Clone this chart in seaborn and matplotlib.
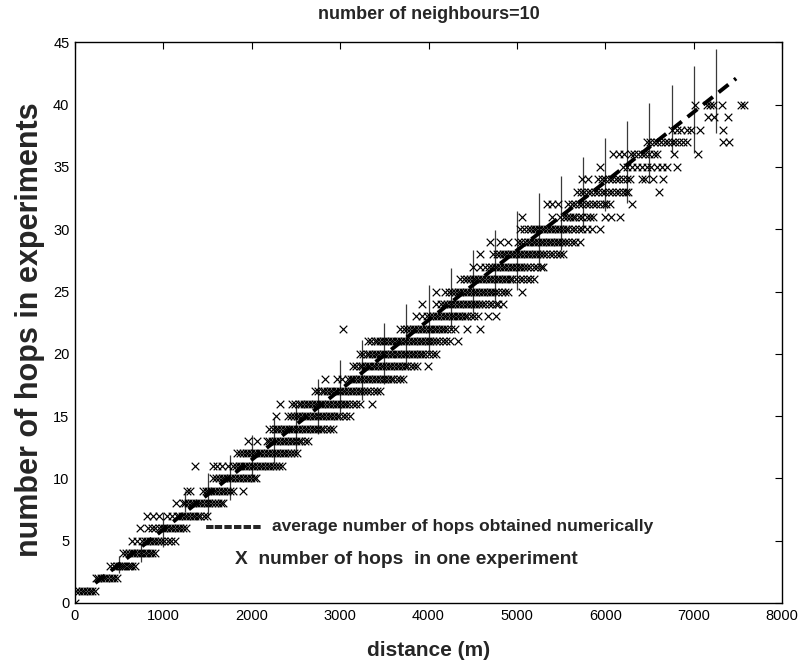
import matplotlib
matplotlib.use("Agg")
import matplotlib.pyplot as plt
import seaborn as sns
import pandas as pd

# Distances (m) at which each hop count was observed in the experiments
h00 = [0]
h01 = [15, 45, 75, 105, 135, 165, 195, 225]
h02 = [235, 265, 295, 325, 355, 385, 415, 445, 480]
h03 = [400, 440, 470, 495, 520, 545, 570, 595, 620, 645, 675]
h04 = [545, 580, 610, 640, 670, 700, 730, 760, 790, 820, 850, 875, 900]
h05 = [650, 700, 760, 790, 820, 850, 880, 910, 940, 970, 1010, 1050, 1090, 1130]
h06 = [740, 830, 870, 910, 950, 980, 1010, 1040, 1070, 1100, 1130, 1160, 1190, 1220, 1260]
h07 = [815, 880, 950, 1040, 1100, 1150, 1180, 1210, 1240, 1270, 1300, 1330, 1360, 1390, 1420, 1455, 1490]
h08 = [1140, 1220, 1250, 1280, 1310, 1340, 1370, 1400, 1430, 1460, 1490, 1520, 1550, 1580, 1615, 1650, 1680]
h09 = [1265, 1300, 1450, 1480, 1510, 1540, 1570, 1600, 1630, 1660, 1690, 1720, 1755, 1790, 1900]
h10 = [1560, 1595, 1630, 1660, 1690, 1720, 1750, 1780, 1810, 1840, 1870, 1900, 1930, 1960, 1990, 2020, 2045]
h11 = [1360, 1560, 1610, 1660, 1730, 1790, 1820, 1850, 1880, 1910, 1940, 1970, 2000, 2030, 2060, 2090,
       2120, 2150, 2180, 2210, 2240, 2270, 2305, 2340]
h12 = [1830, 1865, 1900, 1930, 1960, 1990, 2020, 2050, 2080, 2110, 2140, 2170, 2200, 2230, 2260, 2290,
       2320, 2350, 2380, 2410, 2440, 2475, 2510]
h13 = [1960, 2060, 2170, 2200, 2230, 2260, 2290, 2320, 2350, 2380, 2410, 2440, 2470, 2500, 2530, 2560,
       2600, 2640]
h14 = [2200, 2235, 2270, 2300, 2330, 2360, 2390, 2420, 2450, 2480, 2510, 2540, 2570, 2600, 2630, 2660,
       2690, 2720, 2750, 2780, 2810, 2850, 2885, 2920]
h15 = [2270, 2410, 2445, 2480, 2510, 2540, 2570, 2600, 2630, 2660, 2690, 2720, 2750, 2780, 2810, 2840,
       2870, 2900, 2930, 2960, 2990, 3030, 3070, 3110]
h16 = [2320, 2450, 2490, 2530, 2560, 2590, 2620, 2650, 2680, 2710, 2740, 2770, 2800, 2830, 2860, 2890,
       2920, 2950, 2980, 3010, 3040, 3070, 3100, 3140, 3180, 3220, 3360]
h17 = [2710, 2750, 2790, 2820, 2850, 2880, 2910, 2940, 2970, 3000, 3030, 3060, 3090, 3120, 3150, 3180,
       3210, 3240, 3270, 3300, 3340, 3380, 3415, 3450]
h18 = [2830, 2960, 3020, 3090, 3120, 3150, 3180, 3210, 3240, 3270, 3300, 3330, 3360, 3390, 3420, 3450,
       3480, 3510, 3540, 3570, 3600, 3640, 3675, 3710]
h19 = [3150, 3185, 3220, 3250, 3280, 3310, 3340, 3370, 3400, 3430, 3460, 3490, 3520, 3550, 3580, 3610,
       3640, 3670, 3700, 3730, 3760, 3800, 3835, 3870, 3990]
h20 = [3220, 3260, 3300, 3330, 3360, 3390, 3420, 3450, 3480, 3510, 3540, 3570, 3600, 3630, 3660, 3690,
       3720, 3750, 3780, 3810, 3840, 3870, 3900, 3930, 3960, 4000, 4045, 4090]
h21 = [3310, 3350, 3390, 3420, 3450, 3480, 3510, 3540, 3570, 3600, 3630, 3660, 3690, 3720, 3750, 3780,
       3810, 3840, 3870, 3900, 3930, 3960, 3990, 4020, 4050, 4080, 4120, 4160, 4200, 4240, 4330]
h22 = [3030, 3680, 3720, 3760, 3790, 3820, 3850, 3880, 3910, 3940, 3970, 4000, 4030, 4060, 4090, 4120,
       4150, 4180, 4210, 4250, 4300, 4430, 4580]
h23 = [3860, 3930, 3980, 4020, 4050, 4080, 4110, 4140, 4170, 4200, 4230, 4260, 4290, 4320, 4350, 4380,
       4410, 4440, 4480, 4520, 4560, 4670, 4760]
h24 = [3930, 4090, 4140, 4180, 4210, 4240, 4270, 4300, 4330, 4360, 4390, 4420, 4450, 4480, 4510, 4540,
       4570, 4600, 4640, 4680, 4720, 4760, 4790, 4840]
h25 = [4090, 4190, 4230, 4270, 4300, 4330, 4360, 4390, 4420, 4450, 4480, 4510, 4540, 4570, 4600, 4630,
       4660, 4690, 4720, 4750, 4790, 4830, 4870, 4900, 5060]
h26 = [4360, 4400, 4440, 4470, 4500, 4530, 4560, 4590, 4620, 4650, 4680, 4710, 4740, 4770, 4800, 4830,
       4860, 4890, 4920, 4950, 4990, 5030, 5070, 5110, 5150, 5190]
h27 = [4500, 4580, 4640, 4680, 4720, 4750, 4780, 4810, 4840, 4870, 4900, 4930, 4960, 4990, 5020, 5050,
       5080, 5110, 5150, 5190, 5230, 5270, 5300]
h28 = [4580, 4730, 4770, 4810, 4840, 4870, 4900, 4930, 4960, 4990, 5020, 5050, 5080, 5110, 5140, 5170,
       5200, 5230, 5260, 5290, 5330, 5370, 5410, 5450, 5490, 5520]
h29 = [4690, 4810, 4900, 5010, 5050, 5090, 5120, 5150, 5180, 5210, 5240, 5270, 5300, 5330, 5360, 5390,
       5420, 5450, 5480, 5510, 5540, 5580, 5620, 5660, 5710]
h30 = [5030, 5080, 5120, 5160, 5190, 5220, 5250, 5280, 5310, 5340, 5370, 5400, 5430, 5460, 5490, 5520,
       5550, 5580, 5620, 5660, 5700, 5740, 5790, 5850, 5940]
h31 = [5060, 5400, 5490, 5530, 5570, 5600, 5630, 5660, 5700, 5740, 5790, 5830, 5860, 6000, 6070, 6170]
h32 = [5340, 5400, 5460, 5580, 5620, 5660, 5700, 5740, 5780, 5820, 5860, 5900, 5940, 5980, 6010, 6050, 6300]
h33 = [5680, 5720, 5760, 5800, 5840, 5880, 5920, 5960, 6000, 6040, 6080, 6120, 6160, 6200, 6230, 6260, 6610]
h34 = [5740, 5800, 5920, 5960, 6000, 6040, 6080, 6120, 6160, 6200, 6240, 6280, 6410, 6450, 6540, 6650]
h35 = [5940, 6200, 6240, 6300, 6360, 6420, 6470, 6520, 6580, 6640, 6700, 6810]
h36 = [6090, 6150, 6210, 6290, 6330, 6370, 6410, 6450, 6500, 6550, 6590, 6780, 7050]
h37 = [6470, 6510, 6550, 6590, 6630, 6670, 6710, 6750, 6790, 6830, 6880, 6920, 7330, 7400]
h38 = [6760, 6810, 6860, 6920, 6970, 7070, 7330]
h39 = [7160, 7230, 7390]
h40 = [7010, 7150, 7190, 7220, 7320, 7540, 7570]

hop_rows = [h00, h01, h02, h03, h04, h05, h06, h07, h08, h09, h10, h11, h12, h13, h14, h15, h16,
            h17, h18, h19, h20, h21, h22, h23, h24, h25, h26, h27, h28, h29, h30, h31, h32, h33,
            h34, h35, h36, h37, h38, h39, h40]

# Average number of hops obtained numerically
avg_distance = [230, 1000, 2000, 3000, 4000, 5000, 6000, 7000, 7480]
avg_hops = [1.6, 5.9, 11.5, 17.1, 22.7, 28.3, 33.8, 39.4, 42.1]

# Spread of the numerical results at every 250 m
bar_distance = [500, 750, 1000, 1250, 1500, 1750, 2000, 2250, 2500, 2750, 3000, 3250, 3500, 3750,
                4000, 4250, 4500, 4750, 5000, 5250, 5500, 5750, 6000, 6250, 6500, 6750, 7000, 7250]
bar_low = [2.4, 3.3, 4.5, 7.3, 7.0, 8.3, 10.0, 11.2, 12.0, 13.6, 15.3, 16.3, 17.6, 18.9,
           20.0, 21.9, 23.3, 24.3, 25.1, 26.9, 28.3, 30.0, 31.5, 32.1, 33.7, 36.1, 36.1, 37.7]
bar_high = [3.8, 4.8, 7.2, 9.0, 10.4, 11.9, 13.5, 14.9, 16.0, 18.0, 19.5, 21.1, 22.5, 24.0,
            25.5, 26.9, 28.3, 29.9, 31.5, 32.9, 34.3, 35.8, 37.3, 38.7, 40.1, 41.6, 43.1, 44.5]

title_text = "number of neighbours=10"
xlabel_text = "distance (m)"
ylabel_text = "number of hops in experiments"
note_dash = "------"
note_avg = "average number of hops obtained numerically"
note_exp = "X  number of hops  in one experiment"

records = [(d, h) for h, row in enumerate(hop_rows) for d in row]
df = pd.DataFrame(records, columns=["distance", "hops"])
avg_df = pd.DataFrame({"distance": avg_distance, "hops": avg_hops})

sns.set_style("white")
plt.rcParams["font.family"] = ["Liberation Sans", "DejaVu Sans"]

fig = plt.figure(figsize=(8.09, 6.69), dpi=100)
ax = fig.add_axes([0.0927, 0.0987, 0.874, 0.838])

ax.vlines(bar_distance, bar_low, bar_high, color="#3a3a3a", linewidth=0.9, zorder=1)
sns.scatterplot(data=df, x="distance", y="hops", marker="x", color="black", s=30,
                linewidth=0.85, ax=ax, zorder=2, legend=False)
sns.lineplot(data=avg_df, x="distance", y="hops", color="black", linewidth=2.8,
             dashes=False, ax=ax, zorder=3)
ax.lines[-1].set_linestyle((0, (3.2, 1.9)))

ax.set_xlim(0, 8000)
ax.set_ylim(0, 45)
ax.set_xticks(range(0, 8001, 1000))
ax.set_yticks(range(0, 46, 5))
ax.tick_params(direction="in", length=5, width=0.8, top=True, right=True,
               labelsize=10.5, colors="black", pad=4)
for sp in ax.spines.values():
    sp.set_visible(True)
    sp.set_color("black")
    sp.set_linewidth(1.0)

ax.set_xlabel(xlabel_text, fontsize=15, fontweight="bold")
ax.xaxis.set_label_coords(0.5, -0.068)
ax.set_ylabel(ylabel_text, fontsize=22, fontweight="bold")
ax.yaxis.set_label_coords(-0.043, 0.487)
ax.text(0.5, 1.05, title_text, transform=ax.transAxes, ha="center", va="center",
        fontsize=13, fontweight="bold")

ax.text(1470, 6.1, note_dash, ha="left", va="center", fontsize=21, fontweight="bold")
ax.text(2230, 6.1, note_avg, ha="left", va="center", fontsize=12.5, fontweight="bold")
ax.text(1810, 3.45, note_exp, ha="left", va="center", fontsize=13.8, fontweight="bold")

fig.savefig("out.png", dpi=100)
